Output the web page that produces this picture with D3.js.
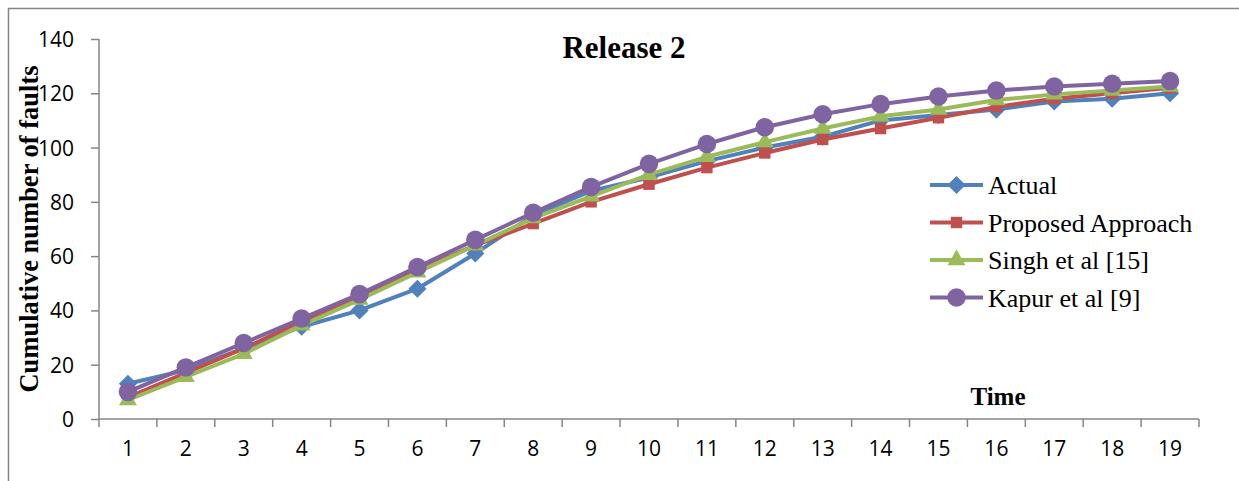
<!DOCTYPE html>
<html lang="en">
<head>
<meta charset="utf-8" />
<title>Release 2</title>
<script src="https://d3js.org/d3.v7.min.js"></script>
<style>
  body { margin: 0; background: #fff; }
  svg { display: block; }
  .axis path, .axis line { stroke: #868686; stroke-width: 1.5; }
  .axis text { font-family: "Open Sans", sans-serif; font-size: 21px; fill: #000; }
</style>
</head>
<body>
<div id="chart"></div>
<script>
  // data
  var categories = ["1","2","3","4","5","6","7","8","9","10","11","12","13","14","15","16","17","18","19"];
  var actual   = [13, 18, 26, 34, 40, 48, 61, 75, 84, 89, 95, 100, 104, 110, 112, 114, 117, 118, 120];
  var proposed = [8, 17, 26, 36, 45, 55, 64, 72, 80, 86.5, 92.6, 98, 103, 107, 111, 115, 118, 120, 122];
  var singh    = [7, 15.5, 24, 34.5, 44, 54, 64, 74, 82, 90, 96.6, 102, 107, 111.5, 114, 117.5, 119.6, 121, 122.5];
  var kapur    = [10, 19, 28, 37, 46, 56, 66, 76, 85.5, 94, 101.3, 107.5, 112.3, 116, 118.8, 121, 122.5, 123.5, 124.5];
  var seriesNames = ["Actual", "Proposed Approach", "Singh et al [15]", "Kapur et al [9]"];
  var yTicks = [0, 20, 40, 60, 80, 100, 120, 140];

  var serif = "'Liberation Serif', 'Times New Roman', serif";

  var series = [
    { name: seriesNames[0], values: actual,   color: "#4F81BD", symbol: d3.symbolSquare,   size: 165, rot: 45 },
    { name: seriesNames[1], values: proposed, color: "#C0504D", symbol: d3.symbolSquare,   size: 130, rot: 0 },
    { name: seriesNames[2], values: singh,    color: "#9BBB59", symbol: d3.symbolTriangle, size: 140, rot: 0 },
    { name: seriesNames[3], values: kapur,    color: "#8064A2", symbol: d3.symbolCircle,   size: 270, rot: 0 }
  ];

  var width = 1239, height = 481;
  var margin = { top: 39, right: 40, bottom: 62, left: 99 };
  var plotW = 1199 - margin.left, plotH = 419 - margin.top;

  var svg = d3.select("#chart").append("svg")
    .attr("width", width)
    .attr("height", height);

  // outer chart frame (only top and left edges are in view)
  svg.append("rect")
    .attr("x", 8.5).attr("y", 8.5)
    .attr("width", width + 20).attr("height", height + 20)
    .attr("fill", "none")
    .attr("stroke", "#868686")
    .attr("stroke-width", 1.5);

  var g = svg.append("g")
    .attr("transform", "translate(" + margin.left + "," + margin.top + ")");

  var x = d3.scaleBand().domain(categories).range([0, plotW]);
  var y = d3.scaleLinear().domain([0, 140]).range([plotH, 0]);

  // y axis
  var yAxis = g.append("g").attr("class", "axis")
    .call(d3.axisLeft(y).tickValues(yTicks).tickSize(8).tickPadding(17).tickSizeOuter(0));
  yAxis.select(".domain").remove();
  g.append("line")
    .attr("x1", 0).attr("x2", 0).attr("y1", 0).attr("y2", plotH)
    .attr("stroke", "#868686").attr("stroke-width", 1.5);
  yAxis.selectAll("text").attr("dy", "0.36em");

  // x axis, ticks between categories
  var xAxis = g.append("g").attr("class", "axis")
    .attr("transform", "translate(0," + plotH + ")")
    .call(d3.axisBottom(x).tickSize(0).tickPadding(22));
  xAxis.select(".domain").remove();
  g.append("line")
    .attr("x1", 0).attr("x2", plotW).attr("y1", plotH).attr("y2", plotH)
    .attr("stroke", "#868686").attr("stroke-width", 1.5);
  var bounds = categories.map(function (c) { return x(c); }).concat([plotW]);
  g.selectAll(".xtick").data(bounds).enter().append("line")
    .attr("class", "xtick")
    .attr("x1", function (d) { return d; }).attr("x2", function (d) { return d; })
    .attr("y1", plotH).attr("y2", plotH + 8)
    .attr("stroke", "#868686").attr("stroke-width", 1.5);

  var line = d3.line()
    .x(function (d, i) { return x(categories[i]) + x.bandwidth() / 2; })
    .y(function (d) { return y(d); });

  series.forEach(function (s) {
    g.append("path")
      .datum(s.values)
      .attr("fill", "none")
      .attr("stroke", s.color)
      .attr("stroke-width", 4)
      .attr("stroke-linejoin", "round")
      .attr("d", line);
    g.selectAll(null).data(s.values).enter().append("path")
      .attr("d", d3.symbol().type(s.symbol).size(s.size))
      .attr("fill", s.color)
      .attr("transform", function (d, i) {
        return "translate(" + (x(categories[i]) + x.bandwidth() / 2) + "," + y(d) + ") rotate(" + s.rot + ")";
      });
  });

  // title
  svg.append("text")
    .attr("x", 624).attr("y", 58)
    .attr("text-anchor", "middle")
    .style("font-family", serif)
    .attr("font-size", 31).attr("font-weight", "bold")
    .text("Release 2");

  // axis titles
  svg.append("text")
    .attr("transform", "translate(38,229) rotate(-90)")
    .attr("text-anchor", "middle")
    .style("font-family", serif)
    .attr("font-size", 26.5).attr("font-weight", "bold")
    .text("Cumulative number of faults");

  svg.append("text")
    .attr("x", 998).attr("y", 405)
    .attr("text-anchor", "middle")
    .style("font-family", serif)
    .attr("font-size", 25).attr("font-weight", "bold")
    .text("Time");

  // legend
  var legend = svg.append("g").attr("transform", "translate(930,185)");
  var keys = legend.selectAll(".key").data(series).enter().append("g")
    .attr("class", "key")
    .attr("transform", function (d, i) { return "translate(0," + i * 37.5 + ")"; });
  keys.append("line")
    .attr("x1", 0).attr("x2", 53).attr("y1", 0).attr("y2", 0)
    .attr("stroke", function (d) { return d.color; })
    .attr("stroke-width", 4);
  keys.append("path")
    .attr("d", function (d) { return d3.symbol().type(d.symbol).size(d.size)(); })
    .attr("fill", function (d) { return d.color; })
    .attr("transform", function (d) { return "translate(26.5,0) rotate(" + d.rot + ")"; });
  keys.append("text")
    .attr("x", 58).attr("y", 9)
    .style("font-family", serif)
    .style("font-size", "26px")
    .text(function (d) { return d.name; });
</script>
</body>
</html>
